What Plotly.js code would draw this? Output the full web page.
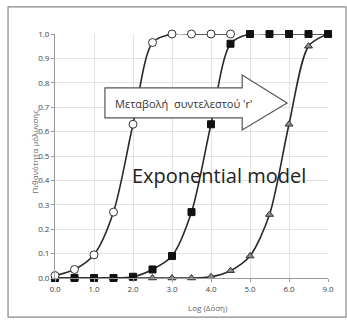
<!DOCTYPE html>
<html><head><meta charset="utf-8">
<script src="https://cdn.plot.ly/plotly-3.0.1.min.js"></script>
<style>html,body{margin:0;padding:0;background:#fff;}#c{width:347px;height:320px;}</style>
</head><body><div id="c"></div>
<script>
const xCircle = [0,0.5,1,1.5,2,2.5,3,3.5,4,4.5];
const yCircle = [0.01,0.035,0.095,0.27,0.63,0.965,1,1,1,1];
const xSquare = [0,0.5,1,1.5,2,2.5,3,3.5,4,4.5,5,5.5,6,6.5,7];
const ySquare = [0,0,0,0,0.005,0.035,0.09,0.27,0.63,0.96,1,1,1,1,1];
const xTri = [0,0.5,1,1.5,2,2.5,3,3.5,4,4.5,5,5.5,6,6.5,7];
const yTri = [0,0,0,0,0,0,0,0,0.005,0.03,0.09,0.26,0.63,0.95,1];
const xTickVals = [0,1,2,3,4,5,6,7];
const xTickText = ['0.0','1.0','2.0','3.0','4.0','5.0','6.0','9.0'];
const yTickVals = [0,0.1,0.2,0.3,0.4,0.5,0.6,0.7,0.8,0.9,1.0];
const xTitle = 'Log (Δόση)';
const yTitle = 'Πιθανότητα μόλυνσης';
const arrowText = 'Μεταβολή&nbsp;&nbsp;συντελεστού \'r\'';
const modelText = 'Exponential model';

const lineStyle = {color:'#2a2a2a', width:1.6, shape:'spline', smoothing:0.8};
const traces = [
  {x:xTri, y:yTri, mode:'lines+markers', line:lineStyle,
   marker:{symbol:'triangle-up', size:7, color:'#8a8a8a', line:{color:'#333', width:1}}, cliponaxis:false},
  {x:xSquare, y:ySquare, mode:'lines+markers', line:lineStyle,
   marker:{symbol:'square', size:7, color:'#111', line:{color:'#111', width:1}}, cliponaxis:false},
  {x:xCircle, y:yCircle, mode:'lines+markers', line:lineStyle,
   marker:{symbol:'circle', size:8, color:'#fff', line:{color:'#333', width:1}}, cliponaxis:false}
];

// arrow geometry in data units
const ax0 = 1.28, axb = 4.8, axt = 5.95;
const bodyTop = 0.779, bodyBot = 0.656, headTop = 0.832, headBot = 0.607, mid = 0.717;
const arrowPath = `M ${ax0} ${bodyTop} L ${axb} ${bodyTop} L ${axb} ${headTop} L ${axt} ${mid} L ${axb} ${headBot} L ${axb} ${bodyBot} L ${ax0} ${bodyBot} Z`;

const layout = {
  width:347, height:320,
  margin:{l:55, r:19, t:34, b:42},
  paper_bgcolor:'#fff', plot_bgcolor:'#fff',
  showlegend:false,
  font:{family:'Open Sans, sans-serif', color:'#555'},
  xaxis:{range:[0,7], tickvals:xTickVals, ticktext:xTickText, showgrid:true, gridcolor:'#e2e2e2', gridwidth:1,
         zeroline:false, showline:true, linecolor:'#999', linewidth:1, ticks:'outside', ticklen:3, tickcolor:'#999',
         tickfont:{size:8, color:'#444'}, fixedrange:true},
  yaxis:{range:[0,1], tickvals:yTickVals, tickformat:'.1f', showgrid:true, gridcolor:'#e2e2e2', gridwidth:1,
         zeroline:false, showline:true, linecolor:'#999', linewidth:1, ticks:'outside', ticklen:3, tickcolor:'#999',
         tickfont:{size:8, color:'#444'}, fixedrange:true},
  shapes:[
    {type:'rect', xref:'paper', yref:'paper', x0:-0.172, x1:1.066, y0:-0.16, y1:1.111,
     line:{color:'#888', width:1.2}, fillcolor:'rgba(0,0,0,0)', layer:'below'},
    {type:'path', xref:'x', yref:'y', path:arrowPath, fillcolor:'#fff', line:{color:'#555', width:1.2}, layer:'above'}
  ],
  annotations:[
    {x:3.3, y:mid, xref:'x', yref:'y', text:arrowText, showarrow:false,
     font:{size:11, color:'#333', family:'Open Sans, sans-serif'}},
    {x:4.2, y:0.42, xref:'x', yref:'y', text:modelText, showarrow:false,
     font:{size:20, color:'#222', family:'Open Sans, sans-serif'}},
    {x:0.56, y:0, xref:'paper', yref:'paper', yanchor:'middle', yshift:-29, text:xTitle, showarrow:false,
     font:{size:8, color:'#666'}},
    {x:0, y:0.5, xref:'paper', yref:'paper', xshift:-29, yshift:4, text:yTitle, showarrow:false, textangle:-90,
     font:{size:8, color:'#666'}}
  ]
};
Plotly.newPlot('c', traces, layout, {displayModeBar:false, staticPlot:true});
</script></body></html>
